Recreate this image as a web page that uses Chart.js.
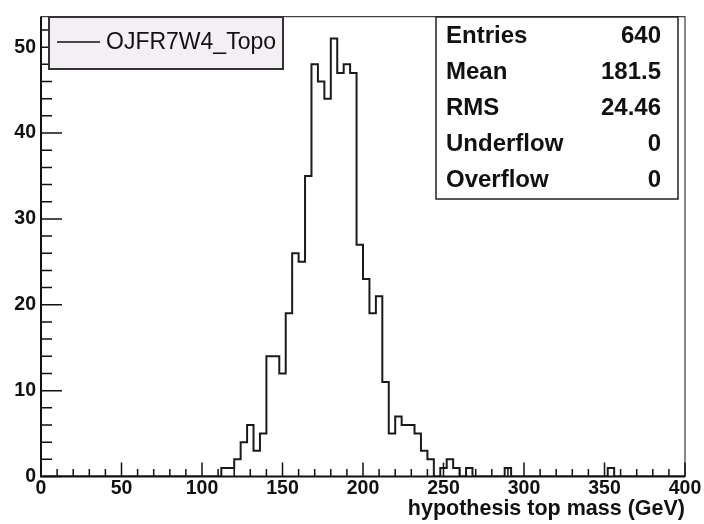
<!DOCTYPE html>
<html>
<head>
<meta charset="utf-8">
<script src="https://cdn.jsdelivr.net/npm/chart.js@4.4.1/dist/chart.umd.min.js"></script>
<style>
  html, body { margin: 0; padding: 0; background: #fff; }
</style>
</head>
<body>
<canvas id="chart" width="704" height="524"></canvas>
<script>
// histogram: 4 GeV bins, first filled bin starts at 112 GeV
var binStart = 112;
var binWidth = 4;
var counts = [
    1, 1, 2, 4, 6, 3, 5, 14, 14, 12,        // 112 - 148
    19, 26, 25, 35, 48, 46, 44, 51, 47, 48, // 152 - 188
    47, 27, 23, 19, 21, 11, 5, 7, 6, 6,     // 192 - 228
    5, 3, 2, 0, 1, 2, 1, 0, 1, 0,           // 232 - 268
    0, 0, 0, 0, 1, 0, 0, 0, 0, 0,           // 272 - 308
    0, 0, 0, 0, 0, 0, 0, 0, 0, 0,           // 312 - 348
    1                                       // 352
];
var xMin = 0, xMax = 400, xStep = 50;
var yMax = 53.55, yStep = 10;

var histName = "OJFR7W4_Topo";
var xTitle = "hypothesis top mass (GeV)";
var statNames = ["Entries", "Mean", "RMS", "Underflow", "Overflow"];
var statValues = ["640", "181.5", "24.46", "0", "0"];

var FONT = "'Liberation Sans', Arial, Helvetica, sans-serif";

// points at the low edge of each bin, stepped line keeps value until next edge
var points = [{ x: xMin, y: 0 }];
for (var i = 0; i < counts.length; i++) {
    points.push({ x: binStart + i * binWidth, y: counts[i] });
}
points.push({ x: binStart + counts.length * binWidth, y: 0 });
points.push({ x: xMax, y: 0 });

// ROOT style frame, inner ticks, legend and stats box
var rootFrame = {
    id: "rootFrame",
    afterDraw: function (chart) {
        var ctx = chart.ctx;
        var a = chart.chartArea;
        var xs = chart.scales.x, ys = chart.scales.y;
        ctx.save();

        // frame
        ctx.strokeStyle = "#111";
        ctx.lineWidth = 1;
        ctx.strokeRect(a.left, a.top, a.right - a.left, a.bottom - a.top);
        ctx.lineWidth = 2;
        ctx.beginPath();
        ctx.moveTo(a.left, a.top);
        ctx.lineTo(a.left, a.bottom);
        ctx.lineTo(a.right, a.bottom);
        ctx.stroke();

        // x ticks (minor every 10)
        ctx.lineWidth = 1.5;
        ctx.beginPath();
        for (var v = xMin; v <= xMax; v += 10) {
            var px = xs.getPixelForValue(v);
            var len = (v % xStep === 0) ? 14 : 7.5;
            ctx.moveTo(px, a.bottom);
            ctx.lineTo(px, a.bottom - len);
        }
        // y ticks (minor every 2)
        for (var w = 0; w <= yMax; w += 2) {
            var py = ys.getPixelForValue(w);
            var len2 = (w % yStep === 0) ? 21 : 11;
            ctx.moveTo(a.left, py);
            ctx.lineTo(a.left + len2, py);
        }
        ctx.stroke();

        // legend box
        ctx.fillStyle = "#f4eff4";
        ctx.fillRect(49, 17, 234, 52);
        ctx.strokeStyle = "#333";
        ctx.lineWidth = 2;
        ctx.strokeRect(49, 17, 234, 52);
        ctx.strokeStyle = "#111";
        ctx.lineWidth = 1.5;
        ctx.beginPath();
        ctx.moveTo(57, 42);
        ctx.lineTo(100, 42);
        ctx.stroke();
        ctx.fillStyle = "#111";
        ctx.font = "23px " + FONT;
        ctx.textBaseline = "middle";
        ctx.textAlign = "left";
        ctx.fillText(chart.data.datasets[0].label, 106, 43);

        // stats box
        ctx.fillStyle = "#fff";
        ctx.fillRect(436, 17, 242, 182);
        ctx.strokeStyle = "#222";
        ctx.lineWidth = 1.5;
        ctx.strokeRect(436, 17, 242, 182);
        ctx.fillStyle = "#111";
        ctx.font = "bold 24px " + FONT;
        for (var k = 0; k < statNames.length; k++) {
            var ry = 36 + k * 36.2;
            ctx.textAlign = "left";
            ctx.fillText(statNames[k], 446, ry);
            ctx.textAlign = "right";
            ctx.fillText(statValues[k], 661, ry);
        }
        ctx.restore();
    }
};

new Chart(document.getElementById("chart"), {
    type: "line",
    data: {
        datasets: [{
            label: histName,
            data: points,
            stepped: true,
            borderColor: "#1a1a1a",
            borderWidth: 2,
            pointRadius: 0,
            fill: false
        }]
    },
    options: {
        responsive: false,
        animation: false,
        layout: { padding: { top: 11, right: 19, left: 0, bottom: 0 } },
        plugins: {
            legend: { display: false },
            tooltip: { enabled: false }
        },
        scales: {
            x: {
                type: "linear",
                min: xMin,
                max: xMax,
                grid: { display: false, drawTicks: false },
                border: { display: false },
                ticks: {
                    stepSize: xStep,
                    padding: 0,
                    maxRotation: 0,
                    color: "#111",
                    font: { family: FONT, size: 19.5, weight: "bold" }
                },
                title: {
                    display: true,
                    text: xTitle,
                    align: "end",
                    color: "#111",
                    padding: { top: 0, bottom: 2 },
                    font: { family: FONT, size: 21.5, weight: "bold" }
                },
                afterFit: function (s) { s.height = 47.5; }
            },
            y: {
                min: 0,
                max: yMax,
                grid: { display: false, drawTicks: false },
                border: { display: false },
                ticks: {
                    stepSize: yStep,
                    includeBounds: false,
                    padding: 5,
                    color: "#111",
                    font: { family: FONT, size: 19.5, weight: "bold" }
                },
                afterFit: function (s) { s.width = 41; }
            }
        }
    },
    plugins: [rootFrame]
});
</script>
</body>
</html>
